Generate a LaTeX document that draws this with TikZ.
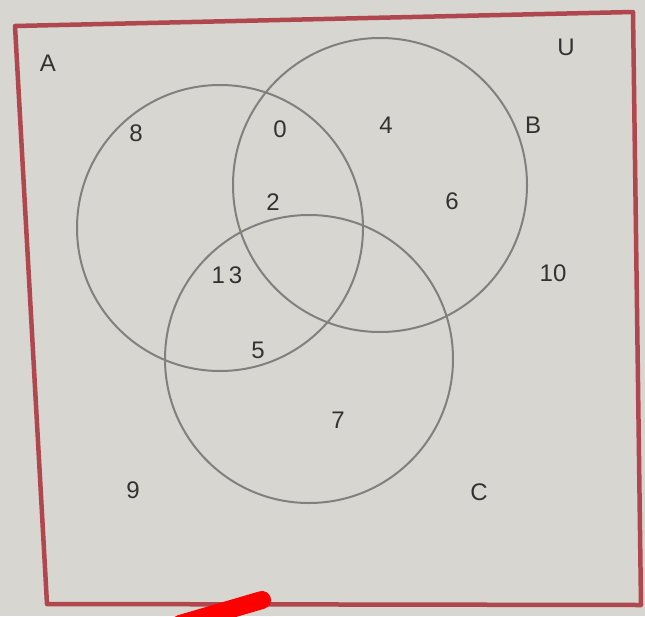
\documentclass[tikz,border=0pt]{standalone}
\usepackage{fontspec}
\setmainfont{Liberation Sans}
\begin{document}
\begin{tikzpicture}[x=1pt,y=-1pt,
  venn/.style={draw=circ, line width=2pt},
  lbl/.style={text=ink, font=\fontsize{24}{26}\selectfont, inner sep=0pt}]
\definecolor{paper}{RGB}{216,214,208}
\definecolor{frame}{RGB}{176,70,78}
\definecolor{circ}{RGB}{128,128,126}
\definecolor{ink}{RGB}{50,50,50}
\fill[paper] (0,0) rectangle (645,616);
\useasboundingbox (0,0) rectangle (645,616);
% universe frame
\coordinate (tl) at (15,26);
\coordinate (tr) at (633,12);
\coordinate (br) at (641,605);
\coordinate (bl) at (47,604);
\draw[frame, line width=4.5pt, line join=round] (tl) -- (tr) -- (br) -- (bl) -- cycle;
% circles
\node[venn, circle, minimum size=286pt, inner sep=0pt] (A) at (220,228) {};
\node[venn, circle, minimum size=294pt, inner sep=0pt] (B) at (380,185) {};
\node[venn, circle, minimum size=288pt, inner sep=0pt] (C) at (309,359) {};
% labels
\node[lbl] (lA) at (48,63) {A};
\node[lbl] (lU) at (566,47) {U};
\node[lbl] (lB) at (533,125) {B};
\node[lbl] (lC) at (479,492) {C};
\node[lbl] (n8) at (136,133) {8};
\node[lbl] (n0) at (280,129) {0};
\node[lbl] (n4) at (386,125) {4};
\node[lbl] (n2) at (273,202) {2};
\node[lbl] (n6) at (452,201) {6};
\node[lbl] (n13) at (227,275) {1\,3};
\node[lbl] (n10) at (553,273) {10};
\node[lbl] (n5) at (258,350) {5};
\node[lbl] (n7) at (338,420) {7};
\node[lbl] (n9) at (133,490) {9};
% red pen mark
\coordinate (r1) at (180,624);
\coordinate (r2) at (262,600);
\draw[red, line width=18pt, line cap=round] (r1) -- (r2);
\end{tikzpicture}
\end{document}
